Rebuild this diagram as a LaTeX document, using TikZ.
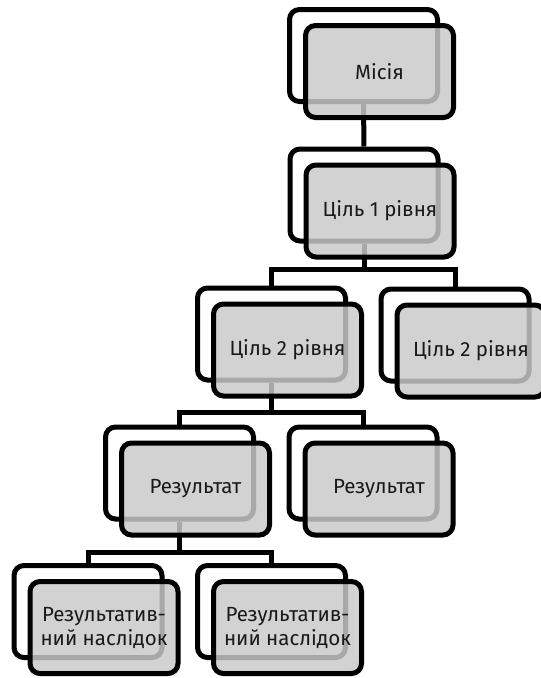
\documentclass[tikz,border=0pt]{standalone}
\usepackage{fontspec}
\setmainfont{Fira Sans}
\usepackage{tikz}

\tikzset{
  backbox/.style={draw,line width=5pt,rounded corners=10pt,
    minimum width=148pt,minimum height=92pt,inner sep=0pt},
  frontbox/.style={backbox,fill=black!21,fill opacity=0.84,
    text opacity=1,text=black!90,align=center,
    font=\fontsize{20.5}{24}\selectfont},
  link/.style={line width=5pt}
}

\begin{document}
\begin{tikzpicture}[x=1pt,y=-1pt]
     \useasboundingbox (0,0) rectangle (541,678);
     % back boxes
     \node[backbox](mis-b) at (363.5,55.5) {};
     \node[backbox](g1-b)  at (364,195) {};
     \node[backbox](g2l-b) at (271.5,334) {};
     \node[backbox](g2r-b) at (455,335) {};
     \node[backbox](rl-b)  at (179.5,473) {};
     \node[backbox](rr-b)  at (363,473) {};
     \node[backbox](ol-b)  at (88,611.5) {};
     \node[backbox](or-b)  at (271.5,611.5) {};
     % bars
     \coordinate(bar1) at (364,269);
     \coordinate(bar2) at (271.5,412);
     \coordinate(bar3) at (179.5,552);
     \draw[link] (mis-b.south) -- (g1-b.north);
     \draw[link] (g1-b.south) -- (bar1);
     \draw[link] (g2l-b.north) |- (bar1);
     \draw[link] (g2r-b.north) |- (bar1);
     \draw[link] (g2l-b.south) -- (bar2);
     \draw[link] (rl-b.north) |- (bar2);
     \draw[link] (rr-b.north) |- (bar2);
     \draw[link] (rl-b.south) -- (bar3);
     \draw[link] (ol-b.north) |- (bar3);
     \draw[link] (or-b.north) |- (bar3);
     % front boxes
     \node[frontbox](mis) at (379.5,71.5) {Місія};
     \node[frontbox](g1)  at (380,211) {Ціль 1 рівня};
     \node[frontbox](g2l) at (287.5,350) {Ціль 2 рівня};
     \node[frontbox](g2r) at (471,351) {Ціль 2 рівня};
     \node[frontbox](rl)  at (195.5,489) {Результат};
     \node[frontbox](rr)  at (379,489) {Результат};
     \node[frontbox](ol)  at (104,627.5) {Результатив-\\ний наслідок};
     \node[frontbox](or)  at (287.5,627.5) {Результатив-\\ний наслідок};
\end{tikzpicture}
\end{document}
